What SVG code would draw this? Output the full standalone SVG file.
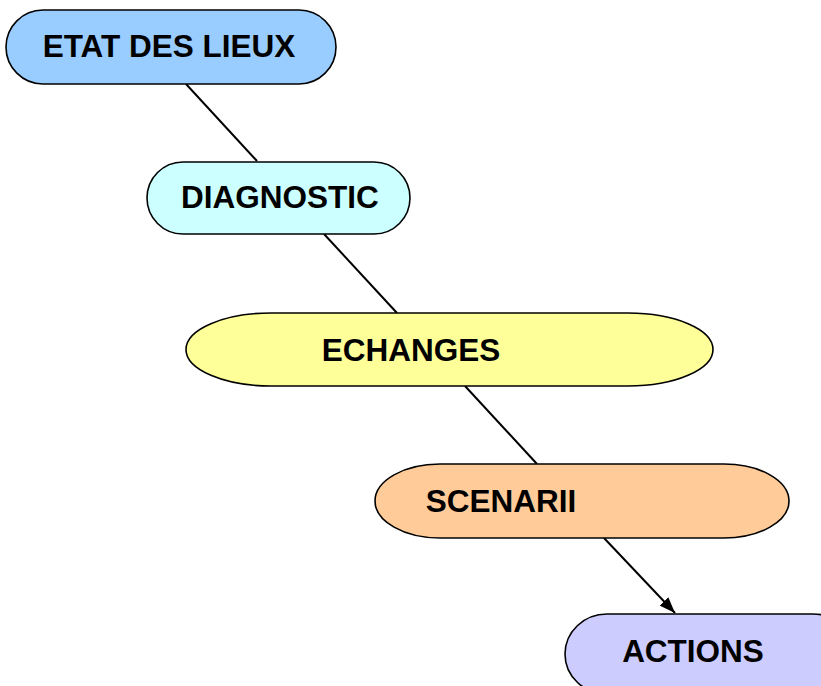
<svg xmlns="http://www.w3.org/2000/svg" width="821" height="686" viewBox="0 0 821 686">
<defs>
<marker id="arr" viewBox="0 0 16 12" refX="16" refY="6" markerWidth="16" markerHeight="12" markerUnits="userSpaceOnUse" orient="auto">
<path d="M0,0 L16,6 L0,12 z" fill="#000"/>
</marker>
<style>
.n{stroke:#000;stroke-width:1.6}
.t{font-family:"Liberation Sans",Arial,sans-serif;font-weight:bold;font-size:31.5px;fill:#000;text-anchor:middle}
.c{stroke:#000;stroke-width:2;fill:none}
</style>
</defs>
<rect width="821" height="686" fill="#fff"/>
<g id="connectors">
<line class="c" x1="186" y1="84" x2="257" y2="161"/>
<line class="c" x1="324" y1="234" x2="397" y2="313"/>
<line class="c" x1="465" y1="386" x2="537" y2="464"/>
<line class="c" x1="604" y1="538" x2="675" y2="613" marker-end="url(#arr)"/>
</g>
<g id="etat">
<rect class="n" x="6" y="10" width="330" height="74" rx="37" ry="37" fill="#99CCFF"/>
<text class="t" x="169" y="57">ETAT DES LIEUX</text>
</g>
<g id="diagnostic">
<rect class="n" x="147" y="162" width="263" height="72" rx="36" ry="36" fill="#CCFFFF"/>
<text class="t" x="280" y="208">DIAGNOSTIC</text>
</g>
<g id="echanges">
<rect class="n" x="186" y="313" width="527" height="73" rx="85" ry="36.5" fill="#FFFF99"/>
<text class="t" x="411" y="361">ECHANGES</text>
</g>
<g id="scenarii">
<rect class="n" x="375" y="464" width="414" height="74" rx="65" ry="37" fill="#FFCC99"/>
<text class="t" x="501" y="512">SCENARII</text>
</g>
<g id="actions">
<rect class="n" x="565" y="614" width="290" height="80" rx="42" ry="40" fill="#CCCCFF"/>
<text class="t" x="693" y="662">ACTIONS</text>
</g>
</svg>
